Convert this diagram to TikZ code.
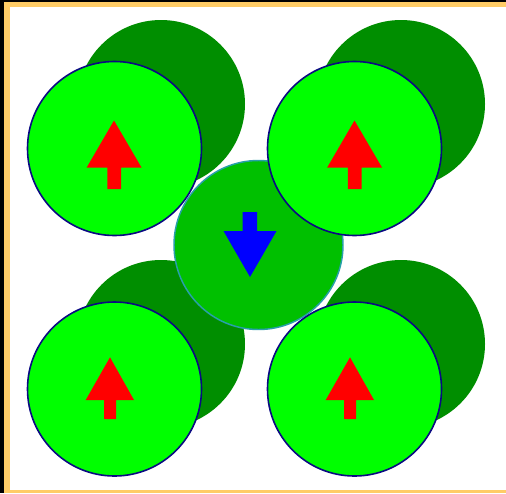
\documentclass[tikz,border=0pt]{standalone}
\begin{document}
\begin{tikzpicture}[x=0.75pt,y=-0.75pt,
  back/.style={fill=dkgreen},
  front/.style={fill=brgreen,draw=navyline,line width=1.2pt},
  mid/.style={fill=mdgreen,draw=tealline,line width=1.1pt},
  uparrow/.style={fill=red},
  dnarrow/.style={fill=blue}]
\definecolor{dkgreen}{RGB}{0,142,0}
\definecolor{brgreen}{RGB}{0,255,0}
\definecolor{mdgreen}{RGB}{0,192,0}
\definecolor{navyline}{RGB}{10,10,130}
\definecolor{tealline}{RGB}{40,160,170}
\definecolor{framec}{RGB}{255,204,102}
\useasboundingbox (0,0) rectangle (506,493);
\fill[black] (0,0) rectangle (506,493);
\fill[framec] (4,1.5) rectangle (506,493);
\fill[white] (10,7) rectangle (506,489.5);
% back circles
\fill[back] (161,104) circle (84);
\fill[back] (401,104) circle (84);
\fill[back] (161,344) circle (84);
\fill[back] (401,344) circle (84);
% middle circle
\draw[mid] (258.5,245) circle (84.5);
\fill[dnarrow] (242.7,212) -- (257,212) -- (257,231) -- (276.5,231) -- (250,277) -- (223.5,231) -- (242.7,231) -- cycle;
% front circles
\draw[front] (114.5,148.5) circle (87);
\draw[front] (354.5,148.5) circle (87);
\draw[front] (114.5,389) circle (87);
\draw[front] (354.5,389) circle (87);
% red arrows
\fill[uparrow] (114,120.5) -- (141.5,167.5) -- (121,167.5) -- (121,189) -- (107.3,189) -- (107.3,167.5) -- (86.7,167.5) -- cycle;
\fill[uparrow] (354.5,120.5) -- (382,167.5) -- (361.5,167.5) -- (361.5,189) -- (347.8,189) -- (347.8,167.5) -- (327.2,167.5) -- cycle;
\fill[uparrow] (110,357.3) -- (134,400) -- (116,400) -- (116,419) -- (104,419) -- (104,400) -- (85.7,400) -- cycle;
\fill[uparrow] (350,357.3) -- (374,400) -- (356,400) -- (356,419) -- (344,419) -- (344,400) -- (325.7,400) -- cycle;
\end{tikzpicture}
\end{document}
